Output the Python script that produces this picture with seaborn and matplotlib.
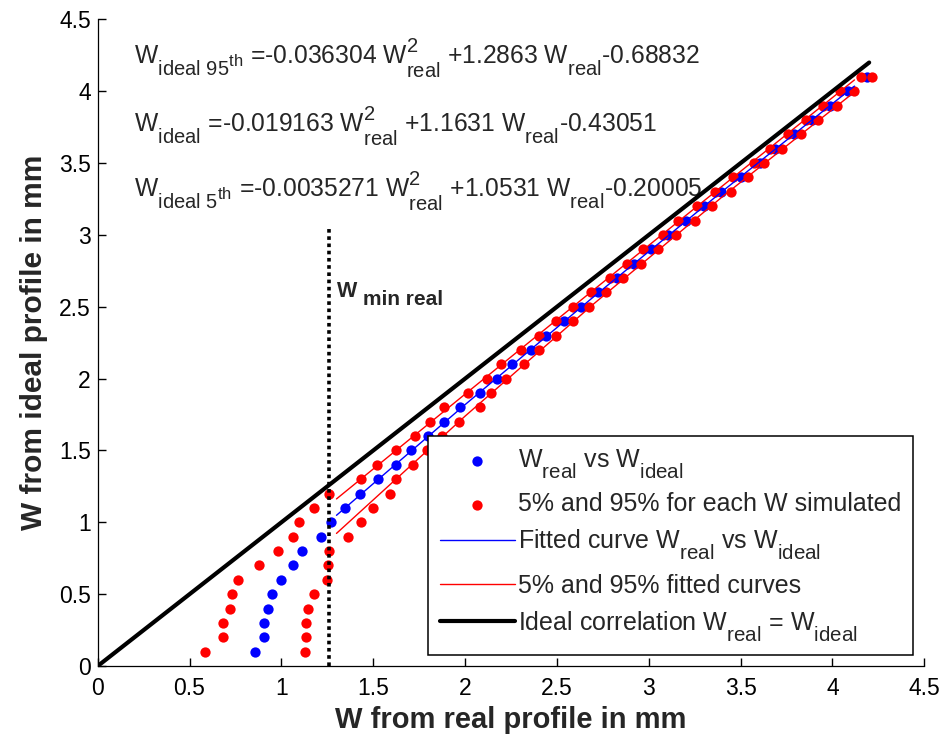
import matplotlib
matplotlib.use("Agg")
import matplotlib.pyplot as plt
import seaborn as sns
import numpy as np
import pandas as pd

# MATLAB-like larger, lower subscripts in mathtext
try:
    import matplotlib._mathtext as _mt
    _mt.SHRINK_FACTOR = 0.82
    _mt.FontConstantsBase.sub1 = 0.85
    _mt.FontConstantsBase.sub2 = 0.95
    _mt.FontConstantsBase.sup1 = 0.8
except Exception:
    pass

# ---------------- data ----------------
w_ideal = [0.1, 0.2, 0.3, 0.4, 0.5, 0.6, 0.7, 0.8, 0.9, 1.0,
           1.1, 1.2, 1.3, 1.4, 1.5, 1.6, 1.7, 1.8, 1.9, 2.0,
           2.1, 2.2, 2.3, 2.4, 2.5, 2.6, 2.7, 2.8, 2.9, 3.0,
           3.1, 3.2, 3.3, 3.4, 3.5, 3.6, 3.7, 3.8, 3.9, 4.0, 4.1]
w_real_mean = [0.855, 0.907, 0.907, 0.929, 0.949, 1.000, 1.062, 1.113, 1.218, 1.271,
               1.345, 1.427, 1.528, 1.625, 1.707, 1.800, 1.883, 1.975, 2.079, 2.173,
               2.255, 2.359, 2.443, 2.537, 2.630, 2.724, 2.826, 2.920, 3.011, 3.107,
               3.202, 3.301, 3.396, 3.501, 3.603, 3.687, 3.792, 3.887, 3.985, 4.083, 4.186]
w_real_p5 = [0.586, 0.680, 0.680, 0.722, 0.733, 0.762, 0.876, 0.982, 1.064, 1.094,
             1.178, 1.260, 1.436, 1.520, 1.623, 1.725, 1.810, 1.883, 2.017, 2.121,
             2.193, 2.306, 2.400, 2.495, 2.588, 2.684, 2.789, 2.884, 2.971, 3.075,
             3.160, 3.265, 3.360, 3.461, 3.571, 3.661, 3.756, 3.856, 3.948, 4.043, 4.155]
w_real_p95 = [1.127, 1.136, 1.136, 1.145, 1.178, 1.251, 1.256, 1.260, 1.363, 1.436,
              1.500, 1.590, 1.625, 1.716, 1.792, 1.872, 1.966, 2.079, 2.141, 2.224,
              2.319, 2.400, 2.495, 2.588, 2.675, 2.766, 2.862, 2.956, 3.051, 3.147,
              3.251, 3.343, 3.447, 3.541, 3.625, 3.723, 3.828, 3.919, 4.025, 4.119, 4.215]

# fitted curves (points on the curves shown)
fit_x = [1.3, 2.0, 2.7, 3.4, 4.12]
fit_mean_y = [1.049, 1.819, 2.570, 3.303, 4.036]
fit_p95_y = [0.923, 1.739, 2.520, 3.265, 3.995]
fit_p5_y = [1.163, 1.892, 2.618, 3.340, 4.079]

ideal_x = [0.0, 4.2]
ideal_y = [0.0, 4.2]

w_min_real = 1.26
w_min_top = 3.05

ticks = [0, 0.5, 1, 1.5, 2, 2.5, 3, 3.5, 4, 4.5]
tick_labels = ["0", "0.5", "1", "1.5", "2", "2.5", "3", "3.5", "4", "4.5"]

eq_95 = r"$\mathregular{W_{ideal\ 95^{th}}}$ =-0.036304 $\mathregular{W^{2}_{real}}$ +1.2863 $\mathregular{W_{real}}$-0.68832"
eq_mean = r"$\mathregular{W_{ideal}}$ =-0.019163 $\mathregular{W^{2}_{real}}$ +1.1631 $\mathregular{W_{real}}$-0.43051"
eq_5 = r"$\mathregular{W_{ideal\ 5^{th}}}$ =-0.0035271 $\mathregular{W^{2}_{real}}$ +1.0531 $\mathregular{W_{real}}$-0.20005"

# ---------------- style ----------------
sns.set_theme(style="ticks")
plt.rcParams["font.family"] = ["Liberation Sans", "DejaVu Sans"]
plt.rcParams["mathtext.fontset"] = "custom"
plt.rcParams["mathtext.rm"] = "Liberation Sans"
plt.rcParams["mathtext.it"] = "Liberation Sans:italic"
plt.rcParams["mathtext.bf"] = "Liberation Sans:bold"

fig = plt.figure(figsize=(9.44, 7.44), dpi=100)
ax = fig.add_axes([0.1035, 0.1048, 0.8756, 0.8691])

BLUE = "#0000ff"
RED = "#ff0000"

sns.scatterplot(x=w_real_mean, y=w_ideal, ax=ax, color=BLUE, s=55,
                linewidth=0, label=r"$\mathregular{W_{real}}$ vs $\mathregular{W_{ideal}}$", zorder=3)
red_df = pd.DataFrame({"x": w_real_p5 + w_real_p95, "y": w_ideal + w_ideal})
sns.scatterplot(data=red_df, x="x", y="y", ax=ax, color=RED, s=55, linewidth=0,
                label="5% and 95% for each W simulated", zorder=3)

sns.lineplot(x=fit_x, y=fit_mean_y, ax=ax, color=BLUE, linewidth=1.0,
             estimator=None, sort=False,
             label=r"Fitted curve $\mathregular{W_{real}}$ vs $\mathregular{W_{ideal}}$", zorder=4)
sns.lineplot(x=fit_x, y=fit_p95_y, ax=ax, color=RED, linewidth=1.0,
             estimator=None, sort=False, label="5% and 95% fitted curves", zorder=4)
sns.lineplot(x=fit_x, y=fit_p5_y, ax=ax, color=RED, linewidth=1.0,
             estimator=None, sort=False, label="_nolegend_", zorder=4)
sns.lineplot(x=ideal_x, y=ideal_y, ax=ax, color="black", linewidth=3.0,
             estimator=None, sort=False,
             label=r"Ideal correlation $\mathregular{W_{real}}$ = $\mathregular{W_{ideal}}$", zorder=5)

# W_min real dotted line
ax.plot([w_min_real, w_min_real], [0, w_min_top], color="black", linewidth=2.6,
        linestyle=(0, (1, 1)), dash_capstyle="butt", zorder=5)
ax.text(1.304, 2.57, "W", fontsize=15.5, fontweight="bold", va="baseline", ha="left")
ax.text(1.446, 2.512, "min real", fontsize=15, fontweight="bold", va="baseline", ha="left")

# equations
ax.text(0.2, 4.182, eq_95, fontsize=17.7, va="baseline", ha="left")
ax.text(0.2, 3.711, eq_mean, fontsize=17.7, va="baseline", ha="left")
ax.text(0.2, 3.262, eq_5, fontsize=17.7, va="baseline", ha="left")

ax.set_xlim(0, 4.5)
ax.set_ylim(0, 4.5)
ax.set_xticks(ticks)
ax.set_xticklabels(tick_labels)
ax.set_yticks(ticks)
ax.set_yticklabels(tick_labels)
ax.tick_params(direction="in", length=6, width=1, labelsize=16.5, colors="black")
ax.tick_params(axis="x", pad=8)
ax.tick_params(axis="y", pad=5)
sns.despine(ax=ax)
for sp in ["left", "bottom"]:
    ax.spines[sp].set_linewidth(0.9)
    ax.spines[sp].set_color("black")

ax.set_xlabel("W from real profile in mm", fontsize=21, fontweight="bold", labelpad=4)
ax.set_ylabel("W from ideal profile in mm", fontsize=21.5, fontweight="bold", labelpad=8)

handles, labels = ax.get_legend_handles_labels()
leg = ax.legend(handles, labels, loc="lower right", bbox_to_anchor=(0.9863, 0.017),
                borderaxespad=0, fontsize=18, frameon=True, fancybox=False,
                edgecolor="black", framealpha=1, handlelength=3.0, handletextpad=0.15,
                borderpad=0.45, labelspacing=0.45, markerscale=1.0)
leg.get_frame().set_linewidth(1.1)
leg.set_zorder(10)

fig.savefig("out.png", dpi=100)
